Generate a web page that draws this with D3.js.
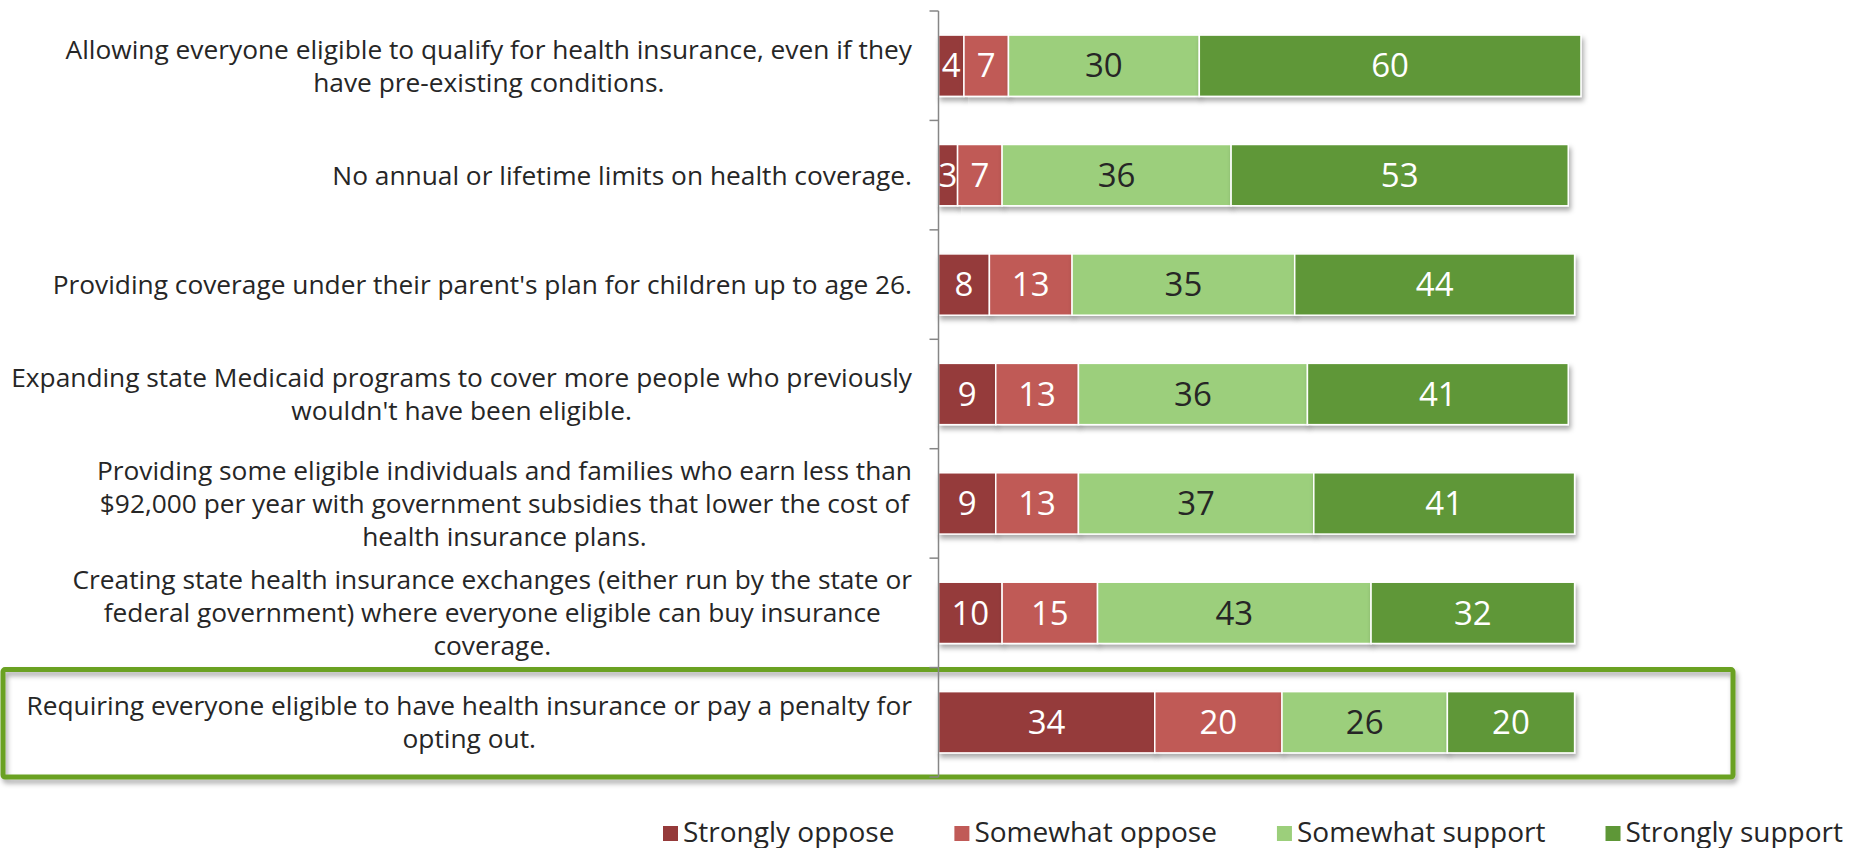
<!DOCTYPE html>
<html>
<head>
<meta charset="utf-8">
<script src="https://cdn.jsdelivr.net/npm/d3@7"></script>
<style>
  html, body { margin: 0; padding: 0; background: #ffffff; }
  svg { display: block; }
  text { font-family: "Open Sans", "Liberation Sans", Arial, sans-serif; }
</style>
</head>
<body>
<svg id="chart" width="1855" height="848"></svg>
<script>
// Survey items, each split into its printed lines
const categories = [
  ["Allowing everyone eligible to qualify for health insurance, even if they", "have pre-existing conditions."],
  ["No annual or lifetime limits on health coverage."],
  ["Providing coverage under their parent's plan for children up to age 26."],
  ["Expanding state Medicaid programs to cover more people who previously", "wouldn't have been eligible."],
  ["Providing some eligible individuals and families who earn less than", "$92,000 per year with government subsidies that lower the cost of", "health insurance plans."],
  ["Creating state health insurance exchanges (either run by the state or", "federal government) where everyone eligible can buy insurance", "coverage."],
  ["Requiring everyone eligible to have health insurance or pay a penalty for", "opting out."]
];

const seriesNames = ["Strongly oppose", "Somewhat oppose", "Somewhat support", "Strongly support"];
const stronglyOppose  = [4, 3, 8, 9, 9, 10, 34];
const somewhatOppose  = [7, 7, 13, 13, 13, 15, 20];
const somewhatSupport = [30, 36, 35, 36, 37, 43, 26];
const stronglySupport = [60, 53, 44, 41, 41, 32, 20];

const seriesColors = ["#953a3a", "#c05a57", "#9ccf7b", "#5e9737"];
const labelColors  = ["#ffffff", "#ffffff", "#262626", "#ffffff"];
const highlightedItem = 6;

// Table for d3.stack
const table = categories.map((c, i) => ({
  idx: i,
  "Strongly oppose": stronglyOppose[i],
  "Somewhat oppose": somewhatOppose[i],
  "Somewhat support": somewhatSupport[i],
  "Strongly support": stronglySupport[i]
}));

const svg = d3.select("#chart");

const defs = svg.append("defs");
const f = defs.append("filter").attr("id", "shadow")
  .attr("x", "-10%").attr("y", "-30%").attr("width", "125%").attr("height", "180%");
f.append("feDropShadow").attr("dx", 2).attr("dy", 4).attr("stdDeviation", 2.5)
  .attr("flood-color", "#000").attr("flood-opacity", 0.33);

const x = d3.scaleLinear().domain([0, 100]).range([938.5, 1574.6]);
const y = d3.scaleBand().domain(d3.range(categories.length))
  .range([11, 777]).paddingInner(0.44).paddingOuter(0.22);
const step = y.step();
const slotTop = i => 11 + i * step;

const layers = d3.stack().keys(seriesNames)(table);

// Highlight frame around the last item
svg.append("rect")
  .attr("x", 3).attr("y", slotTop(highlightedItem) + 2)
  .attr("width", 1730).attr("height", step - 2)
  .attr("fill", "none").attr("stroke", "#6ba123").attr("stroke-width", 5).attr("rx", 2)
  .attr("filter", "url(#shadow)");

// Bars
const layerG = svg.append("g").selectAll("g").data(layers).join("g")
  .attr("fill", (d, i) => seriesColors[i]);

layerG.selectAll("rect").data(d => d).join("rect")
  .attr("x", d => x(d[0]))
  .attr("y", d => y(d.data.idx))
  .attr("width", d => x(d[1]) - x(d[0]))
  .attr("height", y.bandwidth())
  .attr("stroke", "#ffffff").attr("stroke-width", 1.5)
  .attr("filter", "url(#shadow)");

// Value labels
const valueSize = 33;
layers.forEach((layer, li) => {
  svg.append("g").selectAll("text").data(layer).join("text")
    .attr("x", d => (x(d[0]) + x(d[1])) / 2)
    .attr("y", d => y(d.data.idx) + y.bandwidth() / 2 + valueSize * 0.357)
    .attr("text-anchor", "middle")
    .attr("font-size", valueSize)
    .attr("fill", labelColors[li])
    .text(d => d[1] - d[0]);
});

// Category axis: vertical line with ticks between categories
const axisG = svg.append("g").attr("transform", `translate(${x(0)},0)`);
const boundaries = d3.range(categories.length + 1).map(slotTop);
axisG.append("line").attr("x1", 0).attr("x2", 0)
  .attr("y1", boundaries[0]).attr("y2", boundaries[boundaries.length - 1])
  .attr("stroke", "#868686").attr("stroke-width", 1.5);
axisG.selectAll("line.tick").data(boundaries).join("line").attr("class", "tick")
  .attr("x1", -9).attr("x2", 0).attr("y1", d => d).attr("y2", d => d)
  .attr("stroke", "#868686").attr("stroke-width", 1.5);

// Category labels: lines centred within a block right-aligned next to the axis
const labelSize = 26.3, lineGap = 33, labelRight = 912;
categories.forEach((lines, i) => {
  const g = svg.append("g");
  const texts = lines.map(l => g.append("text").attr("font-size", labelSize)
    .attr("fill", "#262626").attr("text-anchor", "middle").text(l));
  const widths = texts.map(t => t.node().getComputedTextLength());
  const blockW = d3.max(widths);
  const cx = labelRight - blockW / 2;
  const cy = y(i) + y.bandwidth() / 2;
  const first = cy - (lines.length - 1) * lineGap / 2;
  texts.forEach((t, k) => t.attr("x", cx).attr("y", first + k * lineGap + labelSize * 0.36));
});

// Legend
const legend = svg.append("g");
let lx = 663;
seriesNames.forEach((name, i) => {
  legend.append("rect").attr("x", lx).attr("y", 826).attr("width", 15).attr("height", 15)
    .attr("fill", seriesColors[i]);
  const t = legend.append("text").attr("x", lx + 20).attr("y", 842)
    .attr("font-size", 28).attr("fill", "#262626").text(name);
  lx += 20 + t.node().getComputedTextLength() + 60;
});
</script>
</body>
</html>
